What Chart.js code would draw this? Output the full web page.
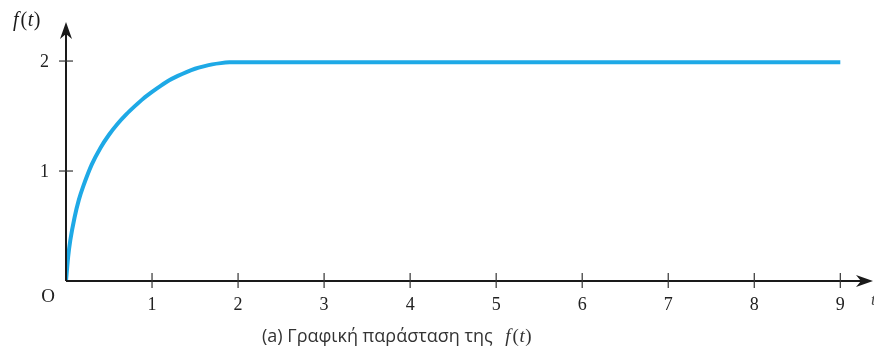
<!DOCTYPE html>
<html>
<head>
<meta charset="utf-8">
<script src="https://cdn.jsdelivr.net/npm/chart.js@4"></script>
<style>
  html, body { margin: 0; padding: 0; background: #fff; }
  #wrap { position: relative; width: 874px; height: 354px; }
</style>
</head>
<body>
<div id="wrap"><canvas id="c" width="874" height="354"></canvas></div>
<script>
// Data
const tValues = [0, 0.01, 0.025, 0.05, 0.1, 0.15, 0.2, 0.3, 0.4, 0.5, 0.6, 0.7, 0.8, 0.9, 1.0, 1.1, 1.2, 1.3, 1.4, 1.5, 1.6, 1.7, 1.8, 1.9, 2.0, 3, 4, 5, 6, 7, 8, 9];
const fValues = [0, 0.09, 0.22, 0.37, 0.58, 0.74, 0.86, 1.06, 1.21, 1.33, 1.43, 1.515, 1.59, 1.66, 1.72, 1.775, 1.825, 1.865, 1.90, 1.93, 1.952, 1.97, 1.981, 1.988, 1.99, 1.99, 1.99, 1.99, 1.99, 1.99, 1.99, 1.99];
const xTickLabels = ['1', '2', '3', '4', '5', '6', '7', '8', '9'];
const xTickValues = [1, 2, 3, 4, 5, 6, 7, 8, 9];
const yTickLabels = ['1', '2'];
const yTickValues = [1, 2];
const originLabel = 'O';
const xAxisTitle = 't';
const captionText = '(a) Γραφική παράσταση της ';

const points = tValues.map((t, i) => ({ x: t, y: fValues[i] }));

// draws "f(t)" with italic f and t, upright parentheses
function drawFt(ctx, x, y, size, color) {
  const it = 'italic ' + size + 'px "Liberation Serif", "DejaVu Serif", serif';
  const up = size + 'px "Liberation Serif", "DejaVu Serif", serif';
  const parts = [['f', it], ['(', up], ['t', it], [')', up]];
  ctx.save();
  ctx.fillStyle = color;
  ctx.textAlign = 'left';
  ctx.textBaseline = 'middle';
  let cx = x;
  parts.forEach(([s, f]) => {
    ctx.font = f;
    ctx.fillText(s, cx, y);
    cx += ctx.measureText(s).width + (s === 'f' ? 2 : 0.5);
  });
  ctx.restore();
  return cx - x;
}
function measureFt(ctx, size) {
  const it = 'italic ' + size + 'px "Liberation Serif", serif';
  const up = size + 'px "Liberation Serif", serif';
  let w = 0;
  [['f', it], ['(', up], ['t', it], [')', up]].forEach(([s, f]) => { ctx.font = f; w += ctx.measureText(s).width + (s === 'f' ? 2 : 0.5); });
  return w;
}

const axesPlugin = {
  id: 'axesPlugin',
  afterDatasetsDraw(chart) {
    const ctx = chart.ctx;
    const xs = chart.scales.x, ys = chart.scales.y;
    const x0 = xs.getPixelForValue(0), y0 = ys.getPixelForValue(0);
    const xEnd = xs.right, yTop = ys.top;
    ctx.save();
    ctx.strokeStyle = '#1a1a1a';
    ctx.fillStyle = '#1a1a1a';
    ctx.lineWidth = 2;
    // x axis
    ctx.beginPath(); ctx.moveTo(x0, y0); ctx.lineTo(xEnd - 12, y0); ctx.stroke();
    ctx.beginPath(); ctx.moveTo(xEnd, y0); ctx.lineTo(xEnd - 17, y0 - 6); ctx.lineTo(xEnd - 12, y0); ctx.lineTo(xEnd - 17, y0 + 6); ctx.closePath(); ctx.fill();
    // y axis
    ctx.beginPath(); ctx.moveTo(x0, y0); ctx.lineTo(x0, yTop + 12); ctx.stroke();
    ctx.beginPath(); ctx.moveTo(x0, yTop); ctx.lineTo(x0 - 6, yTop + 17); ctx.lineTo(x0, yTop + 12); ctx.lineTo(x0 + 6, yTop + 17); ctx.closePath(); ctx.fill();
    // ticks
    ctx.lineWidth = 1.2;
    ctx.strokeStyle = '#333';
    xTickValues.forEach(v => {
      const px = xs.getPixelForValue(v);
      ctx.beginPath(); ctx.moveTo(px, y0 - 8); ctx.lineTo(px, y0 + 7); ctx.stroke();
    });
    yTickValues.forEach(v => {
      const py = ys.getPixelForValue(v);
      ctx.beginPath(); ctx.moveTo(x0 - 7, py); ctx.lineTo(x0 + 7, py); ctx.stroke();
    });
    // labels
    ctx.fillStyle = '#222';
    ctx.font = '18px "Liberation Serif", "DejaVu Serif", serif';
    ctx.textAlign = 'center'; ctx.textBaseline = 'middle';
    xTickValues.forEach((v, i) => {
      ctx.fillText(xTickLabels[i], xs.getPixelForValue(v), y0 + 24);
    });
    ctx.textAlign = 'right';
    yTickValues.forEach((v, i) => {
      ctx.fillText(yTickLabels[i], x0 - 17, ys.getPixelForValue(v) + 1);
    });
    ctx.textAlign = 'center';
    ctx.font = '19px "Liberation Serif", "DejaVu Serif", serif';
    ctx.fillText(originLabel, x0 - 18, y0 + 16);
    // axis titles
    drawFt(ctx, 13, 21, 20, '#1a1a1a');
    ctx.font = 'italic 17px "Liberation Serif", serif';
    ctx.textAlign = 'left';
    ctx.fillStyle = '#444';
    ctx.fillText(xAxisTitle, xEnd - 2, y0 + 20);
    // caption
    ctx.font = '18px "Open Sans", "Noto Sans", sans-serif';
    ctx.fillStyle = '#333';
    const capY = 337;
    const w1 = ctx.measureText(captionText).width;
    const w2 = measureFt(ctx, 19);
    const startX = 397 - (w1 + w2 + 8) / 2;
    ctx.font = '18px "Open Sans", "Noto Sans", sans-serif';
    ctx.textAlign = 'left';
    ctx.fillText(captionText, startX, capY);
    drawFt(ctx, startX + w1 + 8, capY, 19, '#333');
    ctx.restore();
  }
};

new Chart(document.getElementById('c'), {
  type: 'line',
  data: {
    datasets: [{
      data: points,
      borderColor: '#1ea9e6',
      borderWidth: 4,
      pointRadius: 0,
      fill: false,
      cubicInterpolationMode: 'monotone'
    }]
  },
  options: {
    responsive: false,
    animation: false,
    events: [],
    layout: { padding: { left: 66, right: 1, top: 22, bottom: 73 } },
    plugins: { legend: { display: false }, tooltip: { enabled: false } },
    scales: {
      x: { type: 'linear', min: 0, max: 9.38, display: false },
      y: { type: 'linear', min: 0, max: 2.355, display: false }
    }
  },
  plugins: [axesPlugin]
});
</script>
</body>
</html>
